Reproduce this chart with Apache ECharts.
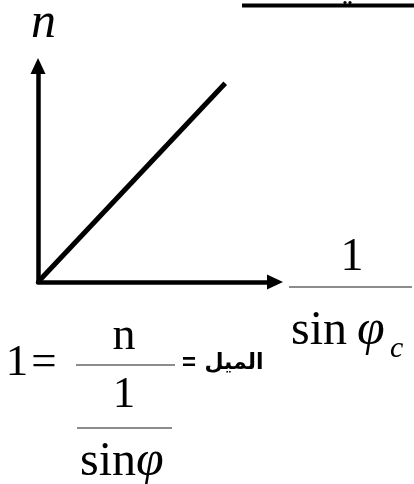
<!DOCTYPE html>
<html>
<head>
<meta charset="utf-8">
<script src="https://cdn.jsdelivr.net/npm/echarts@6/dist/echarts.min.js"></script>
<style>
  html, body { margin: 0; padding: 0; background: #ffffff; }
  #chart { width: 414px; height: 484px; }
</style>
</head>
<body>
<div id="chart"></div>
<script>
// Data
const invSinValues = [0, 79];   // 1 / sin(phi_c)
const nValues = [0, 92];        // n
const axisMin = 0;
const axisMax = 100;

const SERIF = "'Liberation Serif', 'Times New Roman', serif";
const ARABIC = "'DejaVu Sans', sans-serif";

const chart = echarts.init(document.getElementById('chart'), null, { renderer: 'canvas' });

const points = invSinValues.map((v, i) => [v, nValues[i]]);

function txt(text, x, y, font, align, color) {
  return {
    type: 'text', silent: true,
    style: { text: text, x: x, y: y, font: font, fill: color || '#000', align: align || 'left', verticalAlign: 'middle' }
  };
}
function hline(x1, x2, y, w, color) {
  return {
    type: 'line', silent: true,
    shape: { x1: x1, y1: y, x2: x2, y2: y },
    style: { stroke: color || '#000', lineWidth: w }
  };
}

const axisCommon = {
  type: 'value',
  min: axisMin,
  max: axisMax,
  axisLine: {
    show: true,
    symbol: ['none', 'triangle'],
    symbolSize: [15, 16],
    lineStyle: { color: '#000', width: 4.5 }
  },
  axisTick: { show: false },
  axisLabel: { show: false },
  splitLine: { show: false }
};

chart.setOption({
  animation: false,
  backgroundColor: '#ffffff',
  grid: { left: 38, top: 66, width: 237, height: 216 },
  xAxis: axisCommon,
  yAxis: axisCommon,
  series: [{
    type: 'line',
    data: points,
    symbol: 'none',
    lineStyle: { color: '#000', width: 5, cap: 'butt' },
    z: 5
  }],
  graphic: [
    // top bar (cut-off heading)
    hline(242, 414, 5.5, 4),
    { type: 'circle', silent: true, shape: { cx: 345, cy: 2.5, r: 1.6 }, style: { fill: '#000' } },
    { type: 'circle', silent: true, shape: { cx: 350, cy: 2.5, r: 1.6 }, style: { fill: '#000' } },
    // y axis title
    txt('n', 31, 24, 'italic 50px ' + SERIF),
    // x axis title 1 / sin phi_c
    txt('1', 352, 258, '46px ' + SERIF, 'center'),
    hline(289, 412, 287, 1.5, '#666'),
    txt('sin', 291, 331, '48px ' + SERIF),
    txt('\u03C6', 357, 331, 'italic 50px ' + SERIF),
    txt('c', 390, 349, 'italic 30px ' + SERIF),
    // slope equation
    txt('1', 17, 363, '45px ' + SERIF, 'center'),
    txt('=', 44, 363, '45px ' + SERIF, 'center'),
    txt('n', 124, 337, '46px ' + SERIF, 'center'),
    hline(76, 175, 365, 1.5, '#666'),
    txt('=', 189, 363, 'bold 24px ' + "'Liberation Sans', sans-serif", 'center'),
    txt('\u0627\u0644\u0645\u064A\u0644', 234, 363, 'bold 22px ' + ARABIC, 'center'),
    txt('1', 124, 395, '45px ' + SERIF, 'center'),
    hline(77, 172, 428, 1.5, '#666'),
    txt('sin', 80, 462, '48px ' + SERIF),
    txt('\u03C6', 136, 462, 'italic 50px ' + SERIF)
  ]
});
</script>
</body>
</html>
